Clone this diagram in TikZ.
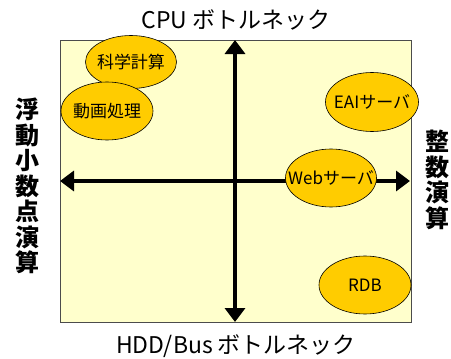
\documentclass[tikz,border=0pt]{standalone}
\usepackage{fontspec}
\setmainfont{Noto Sans CJK JP}
\usetikzlibrary{arrows.meta,shapes.geometric}
\definecolor{bgyellow}{HTML}{FFFFCC}
\definecolor{ellfill}{HTML}{FFCC00}
\newcommand{\zw}[1]{\makebox[0pt]{#1}}
\tikzset{
  axis/.style={line width=4pt, {Triangle[width=20pt,length=14pt]}-{Triangle[width=20pt,length=14pt]}},
  blob/.style={ellipse, draw=black, line width=0.6pt, fill=ellfill, inner sep=0pt, font=\fontsize{17}{19}\selectfont},
  bigtxt/.style={font=\fontsize{23}{25}\selectfont, inner sep=0pt},
  vtxt/.style={font=\fontsize{24}{25.5}\selectfont\bfseries, align=center, inner sep=0pt}
}
\begin{document}
\begin{tikzpicture}[x=1pt,y=-1pt]
\useasboundingbox (0,0) rectangle (451,359);
\node[draw=black!70, line width=0.8pt, fill=bgyellow, minimum width=351pt, minimum height=282pt, inner sep=0pt, anchor=north west] (frame) at (60,40) {};
\coordinate (top) at (235,40);
\coordinate (bot) at (235,322);
\coordinate (lft) at (60,181);
\coordinate (rgt) at (410,181);
\draw[axis] (bot) -- (top);
\draw[axis] (lft) -- (rgt);
\node[blob, minimum width=91pt, minimum height=53pt] (sci) at (131,62) {\zw{科学計算}};
\node[blob, minimum width=92pt, minimum height=58pt] (mov) at (107,111) {\zw{動画処理}};
\node[blob, minimum width=93pt, minimum height=59pt] (eai) at (372,102) {\zw{EAIサーバ}};
\node[blob, minimum width=91pt, minimum height=58pt] (web) at (331,178) {\zw{Webサーバ}};
\node[blob, minimum width=92pt, minimum height=58pt] (rdb) at (365,285) {\zw{RDB}};
\node[bigtxt] (cpu) at (236,20) {CPU ボトルネック};
\node[bigtxt] (hdd) at (236,346) {HDD/Bus ボトルネック};
\node[vtxt] (flt) at (28,186) {浮\\動\\小\\数\\点\\演\\算};
\node[vtxt] (int) at (437,180) {整\\数\\演\\算};
\end{tikzpicture}
\end{document}
